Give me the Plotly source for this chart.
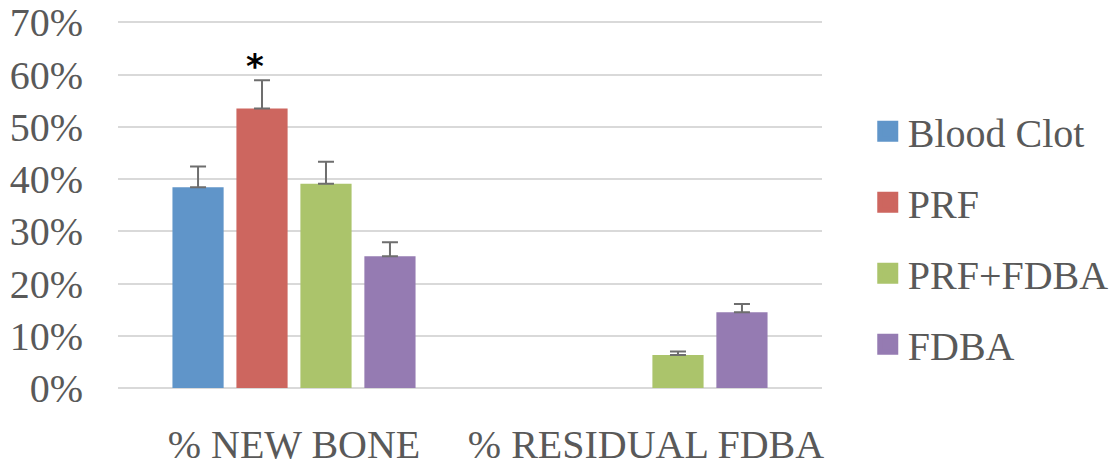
import plotly.graph_objects as go

categories = ["% NEW BONE", "% RESIDUAL FDBA"]
series_names = ["Blood Clot", "PRF", "PRF+FDBA", "FDBA"]
values = {
    "Blood Clot": [0.384, None],
    "PRF": [0.535, None],
    "PRF+FDBA": [0.391, 0.063],
    "FDBA": [0.252, 0.145],
}
errors = {
    "Blood Clot": [0.040, 0],
    "PRF": [0.054, 0],
    "PRF+FDBA": [0.042, 0.007],
    "FDBA": [0.027, 0.016],
}
colors = {
    "Blood Clot": "#6095C9",
    "PRF": "#CD665F",
    "PRF+FDBA": "#ABC46B",
    "FDBA": "#957BB2",
}
y_ticks = [0, 0.1, 0.2, 0.3, 0.4, 0.5, 0.6, 0.7]
y_tick_labels = ["0%", "10%", "20%", "30%", "40%", "50%", "60%", "70%"]

FONT = "Liberation Serif"
TXT = "#595959"
FS = 40

fig = go.Figure()
for name in series_names:
    fig.add_trace(go.Bar(
        name=name, x=categories, y=values[name],
        marker=dict(color=colors[name], line=dict(width=0)),
        error_y=dict(type="data", array=errors[name], arrayminus=[0, 0],
                     symmetric=False, color="#6E6E6E", thickness=2, width=8),
        showlegend=False,
    ))
for name in series_names:
    fig.add_trace(go.Scatter(
        name=name, x=[None], y=[None], mode="markers",
        marker=dict(symbol="square", size=16, color=colors[name],
                    line=dict(width=5, color=colors[name])),
        legendgroup=name, showlegend=True,
    ))

fig.add_annotation(x=categories[0], y=0.617, xref="x", yref="y", xshift=-39,
                   text="<b>*</b>", showarrow=False,
                   font=dict(family="DejaVu Sans", size=34, color="#000000"))

fig.update_layout(
    width=1114, height=466,
    margin=dict(l=118, r=292, t=16, b=78, autoexpand=False),
    paper_bgcolor="white", plot_bgcolor="white",
    barmode="group", bargap=0.273, bargroupgap=0.2,
    font=dict(family=FONT, size=FS, color=TXT),
    legend=dict(x=1.065, y=0.404, xanchor="left", yanchor="middle",
                font=dict(family=FONT, size=FS, color=TXT),
                tracegroupgap=16, itemwidth=30, itemsizing="trace",
                bgcolor="rgba(0,0,0,0)"),
    showlegend=True,
)
fig.update_xaxes(showgrid=False, showline=False, ticks="", automargin=False,
                 tickfont=dict(family=FONT, size=FS, color=TXT),
                 ticklabelstandoff=29, ticklabeloverflow="allow")
fig.update_yaxes(range=[0, 0.712], tickvals=y_ticks, ticktext=y_tick_labels,
                 showgrid=True, gridcolor="#D9D9D9", gridwidth=2,
                 zeroline=True, zerolinecolor="#D9D9D9", zerolinewidth=2,
                 showline=False, ticks="", automargin=False,
                 tickfont=dict(family=FONT, size=FS, color=TXT),
                 ticklabelstandoff=34, ticklabeloverflow="allow")

fig.write_html("out.html", config={"displayModeBar": False},
               post_script="document.body.style.margin='0';")
